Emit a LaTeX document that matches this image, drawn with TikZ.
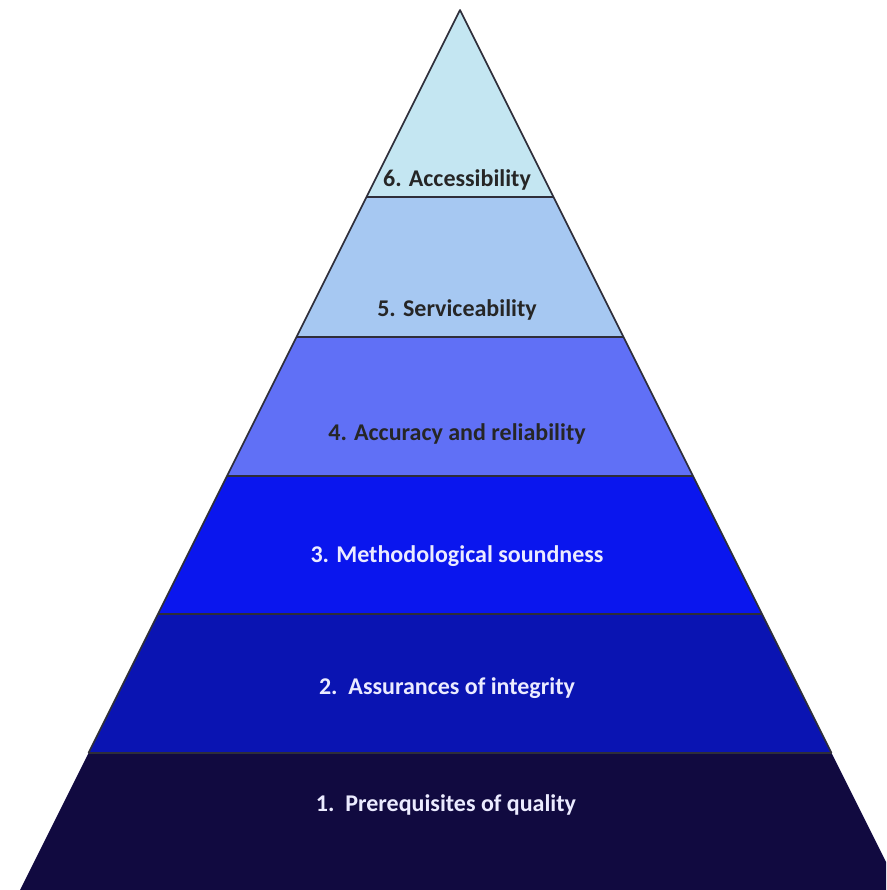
\documentclass[tikz,border=0pt]{standalone}
\usepackage{fontspec}
\setmainfont{Carlito}
\definecolor{lvlsix}{HTML}{C4E6F2}
\definecolor{lvlfive}{HTML}{A6C8F2}
\definecolor{lvlfour}{HTML}{6070F6}
\definecolor{lvlthree}{HTML}{0A16EE}
\definecolor{lvltwo}{HTML}{0A14B2}
\definecolor{lvlone}{HTML}{110A40}
\definecolor{edgegray}{HTML}{2E2E3A}
\tikzset{
  lvltext/.style={font=\fontsize{24}{26}\selectfont\bfseries},
}
\begin{document}
\begin{tikzpicture}[x=1pt,y=-1pt]
\useasboundingbox (0,0) rectangle (886,890);
\begin{scope}
\clip (0,0) rectangle (886,890);
% bands of the pyramid, apex at (460,10), half width grows 0.5 per unit
\foreach \ya/\yb/\col in {10/197/lvlsix,197/337/lvlfive,337/476/lvlfour,476/614/lvlthree,614/753/lvltwo,753/900/lvlone}{
  \pgfmathsetmacro{\wa}{0.5*(\ya-10)}
  \pgfmathsetmacro{\wb}{0.5*(\yb-10)}
  \fill[\col] (460-\wa,\ya)--(460+\wa,\ya)--(460+\wb,\yb)--(460-\wb,\yb)--cycle;
}
\draw[edgegray, line width=1.6pt, line join=round] (88.5,753)--(460,10)--(831.5,753);
\foreach \y in {197,337,476,614,753}{
  \pgfmathsetmacro{\w}{0.5*(\y-10)}
  \draw[edgegray, line width=1.6pt] (460-\w,\y)--(460+\w,\y);
}
\end{scope}
\node[lvltext, text=black!85] (acc) at (457,180) {6. Accessibility};
\node[lvltext, text=black!85] (serv) at (457,310) {5. Serviceability};
\node[lvltext, text=black!85] (accrel) at (457,434) {4. Accuracy and reliability};
\node[lvltext, text=white!92!blue] (meth) at (457,556) {3. Methodological soundness};
\node[lvltext, text=white!92!blue] (integ) at (447,688) {2.\ \ Assurances of integrity};
\node[lvltext, text=white!92!blue] (prereq) at (446,805) {1.\ \ Prerequisites of quality};
\end{tikzpicture}
\end{document}
